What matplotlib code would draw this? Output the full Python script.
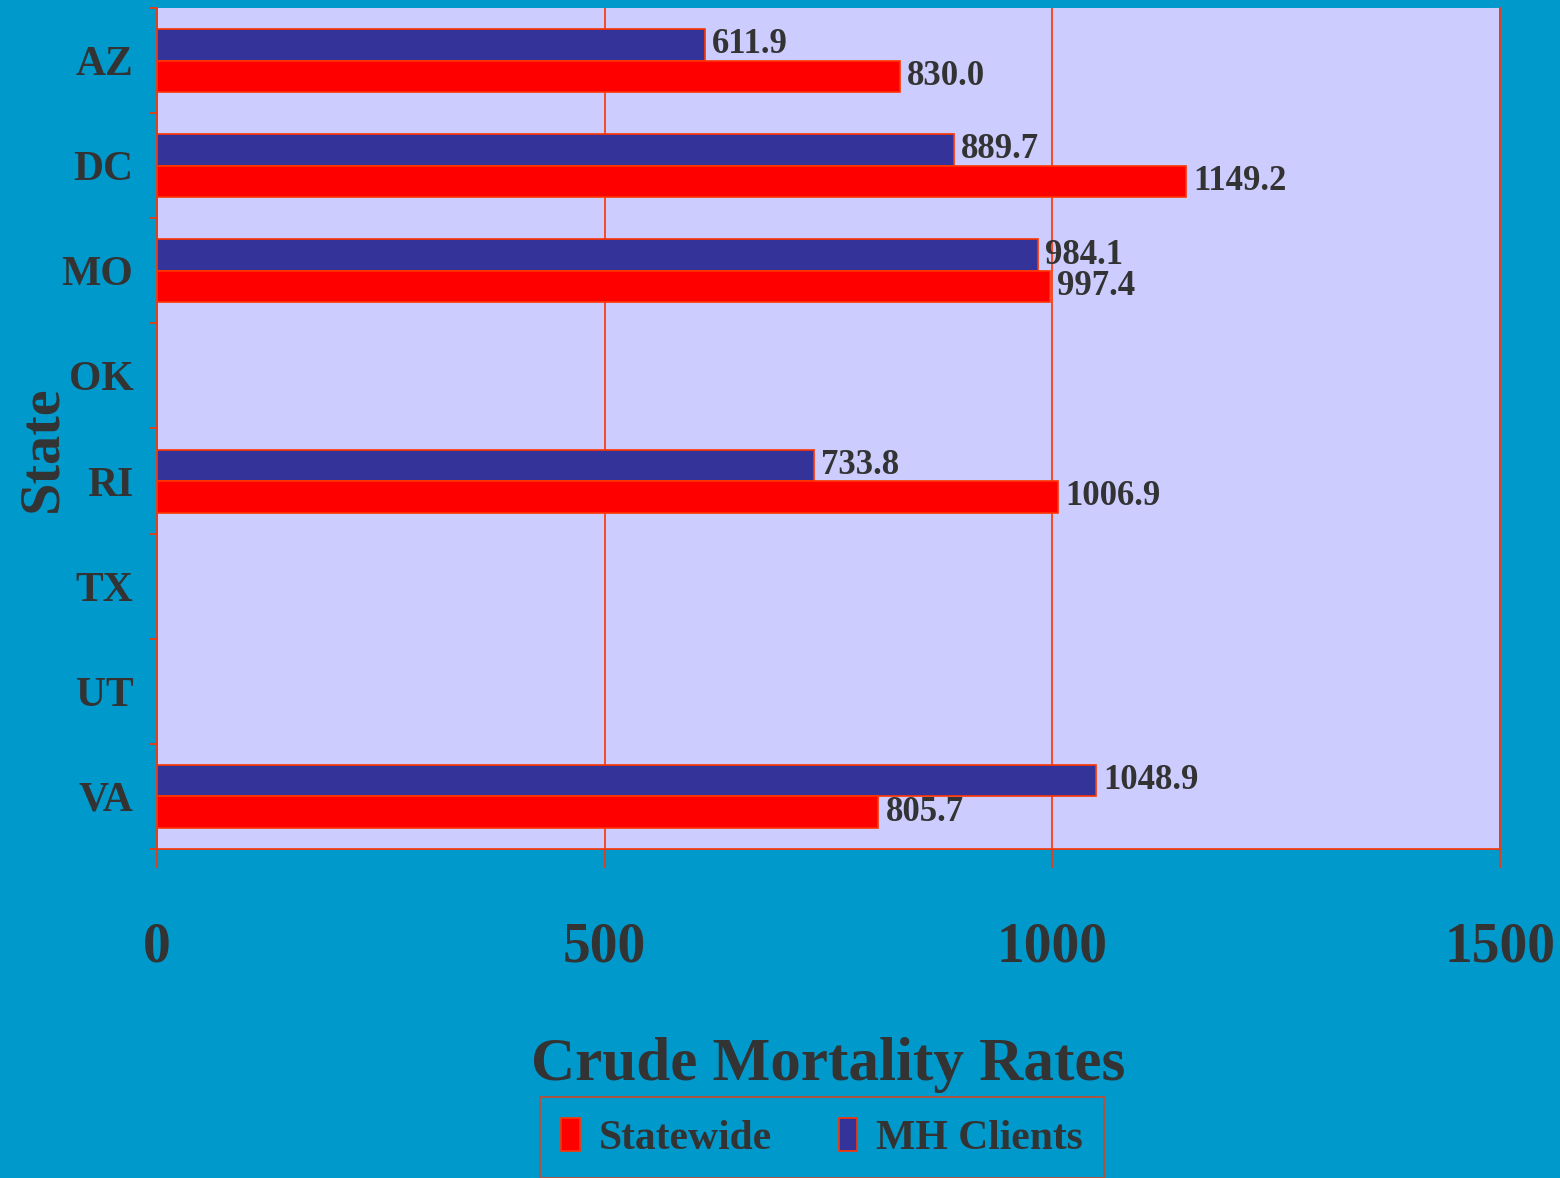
import numpy as np
import matplotlib
matplotlib.use("Agg")
import matplotlib.pyplot as plt
from matplotlib.patches import Patch

# dados (nan = sem valor)
estados = ["AZ", "DC", "MO", "OK", "RI", "TX", "UT", "VA"]
mh_clients = [611.9, 889.7, 984.1, np.nan, 733.8, np.nan, np.nan, 1048.9]
statewide = [830.0, 1149.2, 997.4, np.nan, 1006.9, np.nan, np.nan, 805.7]
xticks = [0, 500, 1000, 1500]

azul_fundo = "#0099CC"
lilas = "#CCCCFF"
azul_barra = "#333399"
vermelho = "#FF0000"
linha = "#FF3300"
texto = "#333333"

plt.rcParams["font.family"] = ["Liberation Serif", "DejaVu Serif"]
plt.rcParams["font.weight"] = "bold"

fig = plt.figure(figsize=(15.6, 11.78), dpi=100, facecolor=azul_fundo)
ax = fig.add_axes([0.1006, 0.2793, 0.8609, 0.7139])
ax.set_facecolor(lilas)

y = np.arange(len(estados))
h = 0.3
ax.barh(y - h / 2, mh_clients, height=h, color=azul_barra, edgecolor=linha, linewidth=1.2, zorder=3)
ax.barh(y + h / 2, statewide, height=h, color=vermelho, edgecolor=linha, linewidth=1.2, zorder=3)

# rotulos de valor
for i in range(len(estados)):
    if not np.isnan(mh_clients[i]):
        ax.text(mh_clients[i] + 8, y[i] - h / 2, "%.1f" % mh_clients[i], va="center", ha="left",
                fontsize=25, color=texto, fontweight="bold", zorder=4)
    if not np.isnan(statewide[i]):
        ax.text(statewide[i] + 8, y[i] + h / 2, "%.1f" % statewide[i], va="center", ha="left",
                fontsize=25, color=texto, fontweight="bold", zorder=4)

ax.set_xlim(0, 1500)
ax.set_ylim(len(estados) - 0.5, -0.5)

ax.set_xticks(xticks)
ax.set_xticklabels([str(v) for v in xticks], fontsize=40, color=texto, fontweight="bold")
ax.tick_params(axis="x", length=14, width=1.2, color=linha, direction="out", pad=38)

ax.set_yticks(y)
ax.set_yticklabels(estados, fontsize=30, color=texto, fontweight="bold")
ax.set_yticks(np.arange(len(estados) + 1) - 0.5, minor=True)
ax.tick_params(axis="y", which="major", length=0, pad=17)
ax.tick_params(axis="y", which="minor", length=6, width=1.2, color=linha, direction="out")

ax.grid(axis="x", color=linha, linewidth=1.2, zorder=1)
ax.set_axisbelow(True)

for lado in ["left", "bottom", "right"]:
    ax.spines[lado].set_color(linha)
    ax.spines[lado].set_linewidth(1.2)
ax.spines["top"].set_visible(False)

ax.set_xlabel("Crude Mortality Rates", fontsize=44, color=texto, fontweight="bold", labelpad=46)
fig.text(0.027, 0.619, "State", rotation=90, ha="center", va="center",
         fontsize=42, color=texto, fontweight="bold")

handles = [Patch(facecolor=vermelho, edgecolor=linha, linewidth=1.2, label="Statewide"),
           Patch(facecolor=azul_barra, edgecolor=linha, linewidth=1.2, label="MH Clients")]
leg = fig.legend(handles=handles, loc="upper center", bbox_to_anchor=(0.527, 0.069), ncol=2,
                 frameon=True, fancybox=False, facecolor=azul_fundo, edgecolor=linha,
                 prop={"size": 30, "weight": "bold"}, handlelength=0.45, handleheight=0.85,
                 handletextpad=0.45, columnspacing=1.6, borderpad=0.5, borderaxespad=0)
leg.get_frame().set_linewidth(1.2)
for t in leg.get_texts():
    t.set_color(texto)

fig.savefig("out.png", dpi=100, facecolor=azul_fundo)
